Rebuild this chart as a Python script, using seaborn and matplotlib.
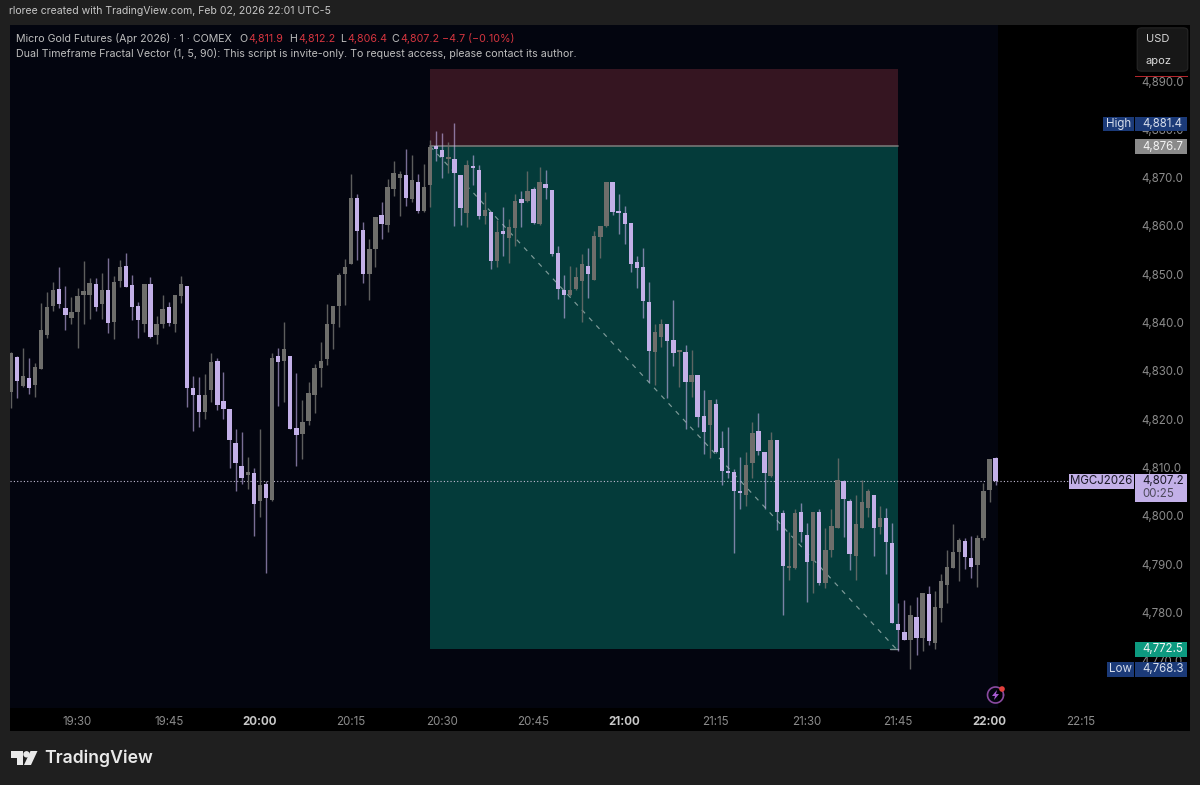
import numpy as np
import pandas as pd
import seaborn as sns
import matplotlib
matplotlib.use("Agg")
import matplotlib.pyplot as plt
from matplotlib.patches import Rectangle, Polygon, FancyBboxPatch

first_minute = -11  # minutes after 19:30
opens = [4825.7,4832.9,4826.9,4828.5,4827.1,4830.3,4837.4,4843.4,4846.9,4843.1,4841.0,
 4842.1,4845.6,4845.8,4848.0,4843.9,4846.7,4840.2,4848.5,4851.8,4847.8,4843.4,4839.8,4848.0,4837.5,4839.8,4843.2,4839.8,4845.5,4847.6,
 4826.5,4825.1,4821.5,4826.0,4832.0,4823.7,4822.2,4815.1,4810.4,4808.5,4808.8,4803.0,4806.6,4803.3,4833.1,4832.0,4833.0,4818.1,4816.9,4819.7,
 4824.9,4830.5,4832.4,4839.8,4843.4,4850.1,4852.2,4865.8,4859.2,4850.0,4855.3,4862.3,4860.1,4867.7,4870.0,4870.5,4865.6,4869.2,4863.0,4868.4,
 4876.5,4875.7,4873.9,4873.8,4870.5,4862.6,4872.5,4871.6,4862.1,4862.9,4852.8,4859.0,4857.4,4859.6,4865.5,4865.2,4867.6,4860.3,4868.7,4867.5,
 4854.5,4846.7,4845.7,4846.9,4848.7,4851.7,4848.9,4857.7,4860.0,4869.0,4863.0,4862.7,4860.7,4852.5,4851.4,4844.2,4834.0,4837.0,4839.7,4836.4,
 4834.0,4833.9,4827.7,4829.1,4820.6,4818.8,4823.2,4814.1,4809.3,4809.0,4805.1,4804.3,4811.0,4817.5,4813.3,4808.3,4815.7,4800.6,4789.1,4789.2,
 4800.8,4796.0,4790.7,4800.8,4786.1,4793.0,4797.5,4807.2,4803.0,4791.7,4797.5,4801.7,4804.2,4797.6,4799.6,4794.4,4777.6,4775.9,4774.3,4779.0,
 4774.7,4783.9,4773.7,4781.0,4785.7,4789.2,4792.5,4794.7,4791.3,4789.8,4795.3,4805.4,4811.9]
highs = [4834.0,4833.1,4834.8,4832.6,4831.7,4844.1,4846.4,4848.3,4851.4,4847.6,4845.2,
 4847.2,4852.8,4849.2,4849.3,4850.3,4853.3,4849.6,4852.9,4854.5,4849.8,4844.3,4848.0,4849.4,4841.3,4845.7,4844.3,4845.8,4849.7,4847.6,
 4828.9,4828.7,4829.4,4833.7,4832.7,4829.8,4822.2,4817.9,4817.4,4812.1,4809.8,4817.9,4807.2,4833.6,4834.8,4840.2,4833.0,4829.6,4824.0,4827.6,
 4831.4,4836.0,4843.8,4843.4,4850.3,4853.1,4870.7,4866.7,4860.9,4857.2,4861.9,4865.0,4869.7,4873.5,4871.4,4875.9,4874.7,4870.7,4872.8,4877.8,
 4879.7,4879.2,4877.4,4881.4,4870.5,4873.6,4874.7,4872.6,4867.0,4862.9,4861.2,4864.0,4861.4,4866.6,4867.2,4871.3,4868.0,4872.3,4871.5,4867.5,
 4855.8,4849.8,4851.8,4851.6,4854.1,4855.4,4859.0,4860.0,4869.0,4869.0,4866.7,4864.1,4860.7,4853.8,4855.4,4848.4,4839.8,4840.7,4839.7,4844.6,
 4834.3,4835.3,4834.3,4829.1,4826.0,4823.9,4824.1,4817.5,4818.4,4809.7,4812.1,4813.2,4819.5,4821.3,4813.3,4817.4,4815.7,4801.2,4796.7,4801.4,
 4802.7,4798.4,4800.7,4801.4,4797.5,4801.4,4811.9,4807.4,4803.5,4804.3,4807.4,4805.5,4804.4,4802.1,4801.7,4798.4,4781.9,4782.6,4781.5,4783.2,
 4784.1,4785.5,4784.5,4787.9,4793.0,4798.2,4795.3,4795.3,4795.8,4796.0,4806.7,4811.7,4812.2]
lows = [4822.4,4824.3,4826.6,4825.2,4824.5,4830.3,4836.9,4842.3,4843.1,4838.4,4839.7,
 4834.7,4839.8,4840.8,4842.3,4840.8,4837.9,4836.5,4847.3,4847.3,4840.5,4836.7,4838.1,4836.9,4835.6,4838.9,4839.2,4838.1,4844.1,4822.5,
 4817.6,4818.4,4820.1,4823.5,4821.8,4820.1,4809.8,4805.2,4806.5,4805.5,4795.9,4799.8,4788.1,4803.1,4822.7,4823.6,4817.9,4810.3,4811.8,4818.8,
 4821.3,4826.7,4831.2,4834.5,4839.1,4843.7,4852.1,4852.9,4848.2,4844.7,4851.6,4857.2,4858.8,4866.2,4862.1,4864.1,4865.0,4862.6,4862.9,4864.0,
 4873.4,4869.9,4870.9,4859.9,4860.2,4859.8,4868.5,4861.4,4860.5,4851.0,4851.6,4853.8,4852.4,4855.8,4859.7,4865.0,4860.5,4860.1,4865.5,4853.8,
 4844.8,4840.9,4845.5,4846.7,4840.2,4845.0,4848.8,4853.4,4859.8,4862.3,4858.3,4856.3,4850.5,4847.2,4840.9,4827.7,4827.1,4834.9,4824.4,4831.1,
 4826.6,4817.9,4824.5,4818.4,4812.8,4811.9,4813.0,4806.3,4807.9,4792.3,4801.5,4802.1,4807.8,4812.6,4801.5,4808.1,4797.0,4779.5,4786.7,4789.0,
 4794.6,4782.2,4784.1,4785.6,4785.1,4791.4,4797.4,4795.5,4788.8,4786.6,4797.4,4799.7,4791.7,4796.2,4787.9,4777.7,4772.1,4774.3,4768.3,4771.1,
 4771.9,4773.2,4772.4,4778.0,4781.9,4789.1,4786.4,4788.9,4787.2,4785.3,4795.0,4802.8,4806.4]
closes = [4833.6,4827.8,4828.9,4826.5,4830.8,4838.4,4843.2,4846.8,4843.8,4841.5,4842.2,
 4845.5,4846.5,4848.1,4843.3,4846.7,4840.0,4848.3,4851.4,4847.3,4843.3,4840.5,4848.0,4837.0,4839.7,4842.9,4840.0,4845.6,4848.0,4826.5,
 4825.0,4821.4,4825.1,4831.8,4822.9,4822.2,4815.6,4810.9,4807.9,4809.1,4802.5,4806.3,4803.6,4832.7,4831.8,4834.5,4818.0,4816.7,4819.4,4825.5,
 4830.5,4832.0,4839.8,4843.4,4849.8,4851.6,4865.7,4859.0,4850.1,4855.2,4861.9,4860.3,4868.1,4871.0,4870.8,4865.8,4869.6,4863.0,4868.1,4876.3,
 4875.9,4874.3,4874.1,4870.9,4863.7,4872.7,4871.9,4862.1,4863.2,4852.8,4858.7,4858.3,4859.7,4865.2,4864.7,4867.2,4860.7,4869.0,4867.9,4854.1,
 4846.9,4845.8,4846.7,4849.5,4852.1,4850.0,4857.9,4860.0,4869.0,4862.9,4862.7,4860.5,4852.1,4851.2,4844.5,4834.2,4838.0,4839.8,4836.2,4833.7,
 4834.3,4827.7,4829.1,4820.4,4817.4,4823.9,4813.3,4809.2,4808.8,4805.1,4804.8,4810.6,4817.1,4813.5,4808.8,4815.6,4800.7,4789.7,4789.7,4800.6,
 4796.6,4790.5,4800.7,4786.1,4793.0,4797.8,4807.3,4803.4,4792.0,4798.2,4802.9,4805.1,4797.5,4799.6,4794.5,4777.9,4776.4,4774.3,4779.5,4774.6,
 4784.1,4774.0,4781.2,4786.4,4789.3,4792.5,4795.0,4791.5,4789.4,4795.3,4805.2,4811.7,4807.2]

minute_ticks = [0,15,30,45,60,75,90,105,120,135,150,165]
time_labels = ["19:30","19:45","20:00","20:15","20:30","20:45","21:00","21:15","21:30","21:45","22:00","22:15"]
bold_labels = ["20:00","21:00","22:00"]
price_ticks = list(range(4770, 4900, 10))

box_start, box_end = 58, 135
stop_price, entry_price, target_price = 4892.5, 4876.5, 4772.5
last_price = 4807.2

BG, NAVY, BLACK = "#1f1f1f", "#03050f", "#000000"
RED_BOX, GREEN_BOX = "#351521", "#043b3a"
PURPLE, GRAY = "#c3b0e8", "#6e6e6b"

sns.set_theme(style="dark", rc={"axes.grid": False})
plt.rcParams["font.family"] = ["Inter", "DejaVu Sans"]

n = len(opens)
df = pd.DataFrame({"minute": np.arange(first_minute, first_minute + n),
                   "open": opens, "high": highs, "low": lows, "close": closes})
df["top"] = df[["open", "close"]].max(axis=1)
df["bot"] = df[["open", "close"]].min(axis=1)
df["body"] = (df["top"] - df["bot"]).clip(lower=0.35)
df["down"] = df["close"] < df["open"]

W, H = 1200, 785
fig = plt.figure(figsize=(W/100, H/100), dpi=100, facecolor=BG)
def fx(x): return x / W
def fy(y): return 1 - y / H

ax_l, ax_r, ax_t, ax_b = 10, 1131, 25, 708
ax = fig.add_axes([fx(ax_l), fy(ax_b), (ax_r-ax_l)/W, (ax_b-ax_t)/H], facecolor=BLACK)
fig.add_artist(Rectangle((fx(10), fy(731)), (1190-10)/W, (731-25)/H, transform=fig.transFigure,
                         fc=BLACK, ec="none", zorder=-5))

ax.axvspan(first_minute - 1, 151.4, color=NAVY, lw=0, zorder=0)
ax.fill_between([box_start, box_end], entry_price, stop_price, color=RED_BOX, lw=0, zorder=1)
ax.fill_between([box_start, box_end], target_price, entry_price, color=GREEN_BOX, lw=0, zorder=1)
ax.plot([box_start, box_end], [entry_price]*2, color="#767676", lw=1.2, zorder=2)
ax.plot([box_end-1.4, box_end], [target_price]*2, color="#7f9694", lw=1.0, zorder=2)

trend = pd.DataFrame({"m": [box_start, box_end - 0.4], "p": [entry_price, target_price]})
sns.lineplot(data=trend, x="m", y="p", ax=ax, color="#7f9b99", lw=0.85, zorder=3,
             linestyle=(0, (4, 5)), errorbar=None)

ax.axhline(last_price, xmax=(1069-ax_l)/(ax_r-ax_l), color="#c4bdd4", lw=0.8,
           linestyle=(0, (1, 2)), zorder=3)

for is_down, col, wick_alpha in [(False, GRAY, 0.85), (True, PURPLE, 0.62)]:
    s = df[df["down"] == is_down].sort_values("minute")
    ax.vlines(s["minute"], s["low"], s["high"], color=col, alpha=wick_alpha, lw=1.0, zorder=4)
    sns.barplot(x=s["minute"].values, y=s["body"].values, bottom=s["bot"].values, ax=ax,
                native_scale=True, color=col, saturation=1, width=0.72, errorbar=None,
                linewidth=0, zorder=5)

ax.set_xlim((ax_l-77.5)/6.08, (ax_r-77.5)/6.08)
ax.set_ylim(4760.2, 4901.6)
ax.set_xlabel(""); ax.set_ylabel("")
for sp in ax.spines.values():
    sp.set_visible(False)

ax.yaxis.tick_right()
ax.set_yticks(price_ticks)
ax.set_yticklabels([f"{p:,.1f}" for p in price_ticks], color="#8b8b8b", fontsize=8.3)
ax.tick_params(axis="y", length=0, pad=7.6)
ax.set_xticks(minute_ticks)
ax.set_xticklabels(time_labels, fontsize=8.3)
ax.tick_params(axis="x", length=0, pad=6)
for t in ax.get_xticklabels():
    if t.get_text() in bold_labels:
        t.set_fontweight("bold"); t.set_color("#c9c9c9")
    else:
        t.set_color("#8b8b8b")

def box(x0, y0, x1, y1, fc, z=10):
    fig.add_artist(Rectangle((fx(x0), fy(y1)), (x1-x0)/W, (y1-y0)/H, transform=fig.transFigure,
                             fc=fc, ec="none", zorder=z))
def txt(x, y, s, color, size=8.3, ha="left", weight="normal", z=11):
    fig.text(fx(x), fy(y), s, color=color, fontsize=size, ha=ha, va="center", fontweight=weight, zorder=z)

# Header
txt(9, 11.5, "rloree created with TradingView.com, Feb 02, 2026 22:01 UTC-5", "#c6c6c6", 7.57)
txt(16, 39, "Micro Gold Futures (Apr 2026) · 1 · COMEX", "#bdbdbd", 7.67)
RED = "#d5353f"
for x, s, c in [(239.5, "O", "#bdbdbd"), (248, "4,811.9", RED), (289, "H", "#bdbdbd"), (298, "4,812.2", RED),
                (340, "L", "#bdbdbd"), (347, "4,806.4", RED), (391.5, "C", "#bdbdbd"), (400, "4,807.2", RED),
                (442.5, "−4.7 (−0.10%)", RED)]:
    txt(x, 39, s, c, 7.7)
txt(16, 53.5, "Dual Timeframe Fractal Vector (1, 5, 90): This script is invite-only. To request access, please contact its author.", "#bdbdbd", 7.67)

# Currency/unit box
fig.add_artist(FancyBboxPatch((fx(1139), fy(70)), 47/W, 41/H, boxstyle="round,pad=0.0015,rounding_size=0.004",
                              transform=fig.transFigure, fc="#171717", ec="#262626", lw=0.8, zorder=10))
txt(1146, 39, "USD", "#d8d8d8", 8.0)
txt(1146, 61, "apoz", "#d8d8d8", 8.0)
box(1135, 75.6, 1188, 76.6, "#b3262c")

# Price labels
BLUE = "#1b3a78"
box(1103, 117, 1134, 131, BLUE); txt(1118.5, 124, "High", "#d6ddeb", ha="center")
box(1135, 117, 1187, 131, BLUE); txt(1142, 124, "4,881.4", "#d6ddeb")
box(1135, 139, 1187, 154, "#8a8a8a"); txt(1142, 146.5, "4,876.7", "#f2f2f2")
box(1069, 474, 1134, 489, PURPLE); txt(1101.5, 481.5, "MGCJ2026", "#1c1a28", ha="center")
box(1135, 474, 1187, 502, PURPLE); txt(1142, 481.5, "4,807.2", "#1c1a28"); txt(1142, 494, "00:25", "#4e4a5c")
box(1135, 642, 1187, 657, "#0d9a80"); txt(1142, 649.5, "4,772.5", "#f0f5f3")
box(1107, 662, 1134, 677, BLUE); txt(1120.5, 669.5, "Low", "#d6ddeb", ha="center")
box(1135, 662, 1187, 677, BLUE); txt(1142, 669.5, "4,768.3", "#d6ddeb")

# Bolt icon
def figpoly(points, fc):
    fig.add_artist(Polygon([(fx(a), fy(b)) for a, b in points], closed=True, transform=fig.transFigure,
                           fc=fc, ec="none", zorder=12))
t = np.linspace(0, 2*np.pi, 60)
fig.add_artist(plt.Line2D(fx(995.5 + 8*np.cos(t)), fy(695 + 8*np.sin(t)), color="#8a4aa0", lw=1.2, zorder=12))
figpoly([(997, 690), (992, 696), (995, 696), (994, 700), (999, 694), (996, 694)], "#a85cd2")
figpoly([(1002 + 2.8*np.cos(a), 689 + 2.8*np.sin(a)) for a in t], "#e2403c")

# TradingView logo
LOGO = "#e9e9e9"
figpoly([(11, 751), (23, 751), (23, 765), (16.5, 765), (16.5, 757.5), (11, 757.5)], LOGO)
figpoly([(26.5 + 3.2*np.cos(a), 754.3 + 3.2*np.sin(a)) for a in t], LOGO)
figpoly([(30.5, 751), (37.5, 751), (31, 765), (24, 765)], LOGO)
txt(44, 758.5, "TradingView", LOGO, 12.7, weight="semibold")

fig.savefig("out.png", dpi=100, facecolor=BG)
